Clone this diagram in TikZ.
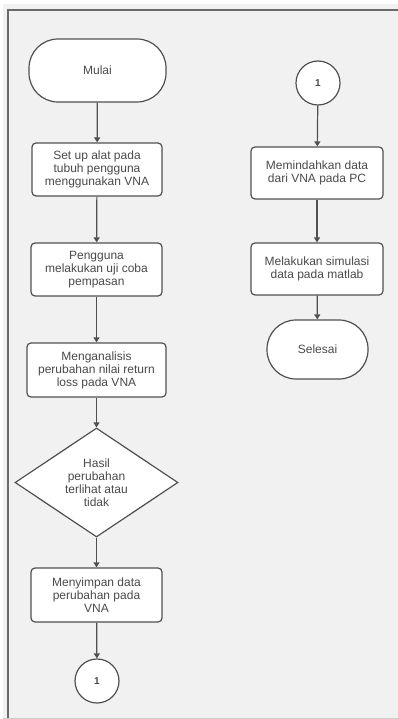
\documentclass[tikz,border=0pt]{standalone}
\usepackage{fontspec}
\setmainfont{Liberation Sans}
\usetikzlibrary{arrows.meta,shapes.geometric}
\definecolor{pagegray}{HTML}{F1F1F1}
\definecolor{framegray}{HTML}{6A6A6A}
\definecolor{linegray}{HTML}{505050}
\definecolor{textgray}{HTML}{4A4A4A}
\tikzset{
  base/.style={draw=linegray, line width=1.2pt, fill=white, text=textgray,
    font=\fontsize{12}{13}\selectfont, align=center, inner sep=0pt},
  terminal/.style={base, rectangle, rounded corners=29pt},
  process/.style={base, rectangle, rounded corners=4pt},
  decision/.style={base, diamond, aspect=1.5},
  connector/.style={base, circle, minimum size=44pt, font=\fontsize{10}{12}\selectfont\bfseries},
  flow/.style={draw=linegray, line width=1.2pt, -{Triangle[width=6pt,length=5pt]}}
}
\begin{document}
\begin{tikzpicture}[x=1pt,y=-1pt]
			%%%%% START %%%%%
			
			\fill[white] (0,0) rectangle (398,719);
			\useasboundingbox (0,0) rectangle (398,719);
			\fill[pagegray] (3,4) rectangle (398,719);
			\draw[framegray, line width=2pt] (7.5,719) -- (7.5,10.5) -- (398,10.5);
			\draw[black!20, line width=0.8pt] (3,718.5) -- (398,718.5);
			
			% left column
			\node[terminal, minimum width=137pt, minimum height=63pt] (mulai) at (97.5,70.5) {Mulai};
			\node[process, minimum width=130pt, minimum height=53pt] (setup) at (97,169.5) {Set up alat pada\\tubuh pengguna\\menggunakan VNA};
			\node[process, minimum width=131pt, minimum height=53pt] (uji) at (96.5,269.5) {Pengguna\\melakukan uji coba\\pempasan};
			\node[process, minimum width=139pt, minimum height=54pt] (analisis) at (96.5,370) {Menganalisis\\perubahan nilai return\\loss pada VNA};
			\node[decision, minimum width=163pt, minimum height=109pt] (hasil) at (96.5,482.5) {Hasil\\perubahan\\terlihat atau\\tidak};
			\node[process, minimum width=131pt, minimum height=54pt] (simpan) at (96.5,595) {Menyimpan data\\perubahan pada\\VNA};
			\node[connector] (sambungA) at (97,681) {1};
			
			% right column
			\node[connector] (sambungB) at (318,83) {1};
			\node[process, minimum width=132pt, minimum height=52pt] (pindah) at (317,173) {Memindahkan data\\dari VNA pada PC};
			\node[process, minimum width=132pt, minimum height=52pt] (simulasi) at (317,269) {Melakukan simulasi\\data pada matlab};
			\node[terminal, minimum width=101pt, minimum height=59pt] (selesai) at (317.5,349.5) {Selesai};
			
			\draw[flow] (mulai) -- (setup);
			\draw[flow] (setup) -- (uji);
			\draw[flow] (uji) -- (analisis);
			\draw[flow] (analisis) -- (hasil);
			\draw[flow] (hasil) -- (simpan);
			\draw[flow] (simpan) -- (sambungA);
			\draw[flow] (sambungB) -- (pindah);
			\draw[flow] (pindah) -- (simulasi);
			\draw[flow] (simulasi) -- (selesai);
			
			%%%%% END %%%%%
\end{tikzpicture}
\end{document}
